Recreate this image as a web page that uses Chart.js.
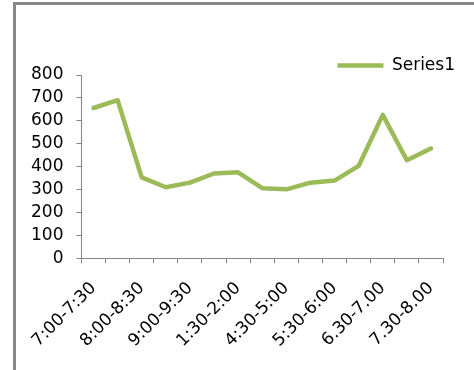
<!DOCTYPE html>
<html>
<head>
<meta charset="utf-8">
<script src="https://cdn.jsdelivr.net/npm/chart.js@4"></script>
<style>
  html, body { margin: 0; padding: 0; background: #fff; }
  #wrap { position: relative; width: 474px; height: 370px; }
  #frame { position: absolute; left: 13px; top: 2px; right: 0; bottom: 0;
           border-left: 3px solid #888; border-top: 3px solid #888; pointer-events: none; }
  canvas { position: absolute; left: 0; top: 0; }
</style>
</head>
<body>
<div id="wrap">
  <canvas id="myChart1" width="474" height="370"></canvas>
  <div id="frame"></div>
</div>
<script>
const categories = [
  '7:00-7:30', '7:30-8:00', '8:00-8:30', '8:30-9:00', '9:00-9:30',
  '12:30-1:00', '1:30-2:00', '3:30-4:00', '4:30-5:00', '5:00-5:30',
  '5:30-6:00', '6:00-6:30', '6.30-7.00', '7.00-7.30', '7.30-8.00'
];
const series1 = [656, 690, 353, 310, 330, 370, 375, 306, 301, 330, 339, 403, 626, 428, 479];
const yTicks = [0, 100, 200, 300, 400, 500, 600, 700, 800];

const green = '#9BBB59';
const axisGrey = '#868686';

Chart.defaults.font.family = 'DejaVu Sans';
Chart.defaults.font.size = 17;
Chart.defaults.color = '#000';

// Excel puts the legend partly over the plot, so nudge it after layout
const legendShift = {
    id: 'legendShift',
    afterLayout(chart) {
        const lg = chart.legend;
        lg.top += 9; lg.bottom += 9;
        lg.left += 20; lg.right += 20;
    }
};

const ctx = document.getElementById('myChart1');

new Chart(ctx, {
    type: 'line',
    data: {
        labels: categories,
        datasets: [{
            label: 'Series1',
            data: series1,
            borderColor: green,
            backgroundColor: green,
            borderWidth: 4.5,
            pointRadius: 0,
            pointStyle: 'line',
            tension: 0,
            borderCapStyle: 'round',
            borderJoinStyle: 'round'
        }]
    },
    plugins: [legendShift],
    options: {
        responsive: false,
        animation: false,
        layout: {
            padding: { top: 40, left: 18, right: 31, bottom: 4 }
        },
        plugins: {
            tooltip: { enabled: false },
            legend: {
                position: 'top',
                align: 'end',
                labels: {
                    usePointStyle: true,
                    pointStyleWidth: 46,
                    padding: 8,
                    font: { size: 17 }
                }
            }
        },
        scales: {
            x: {
                offset: true,
                border: { color: axisGrey, width: 1 },
                grid: {
                    offset: true,
                    drawOnChartArea: false,
                    color: axisGrey,
                    tickLength: 5
                },
                ticks: {
                    autoSkip: false,
                    maxRotation: 45,
                    minRotation: 45,
                    padding: 15,
                    callback: function (value, index) {
                        return index % 2 === 0 ? this.getLabelForValue(value) : '';
                    }
                }
            },
            y: {
                min: 0,
                max: 800,
                afterBuildTicks: function (axis) {
                    axis.ticks = yTicks.map(v => ({ value: v }));
                },
                border: { color: axisGrey, width: 1 },
                grid: {
                    drawOnChartArea: false,
                    color: axisGrey,
                    tickLength: 5
                },
                ticks: {
                    autoSkip: false,
                    padding: 13
                }
            }
        }
    }
});
</script>
</body>
</html>
